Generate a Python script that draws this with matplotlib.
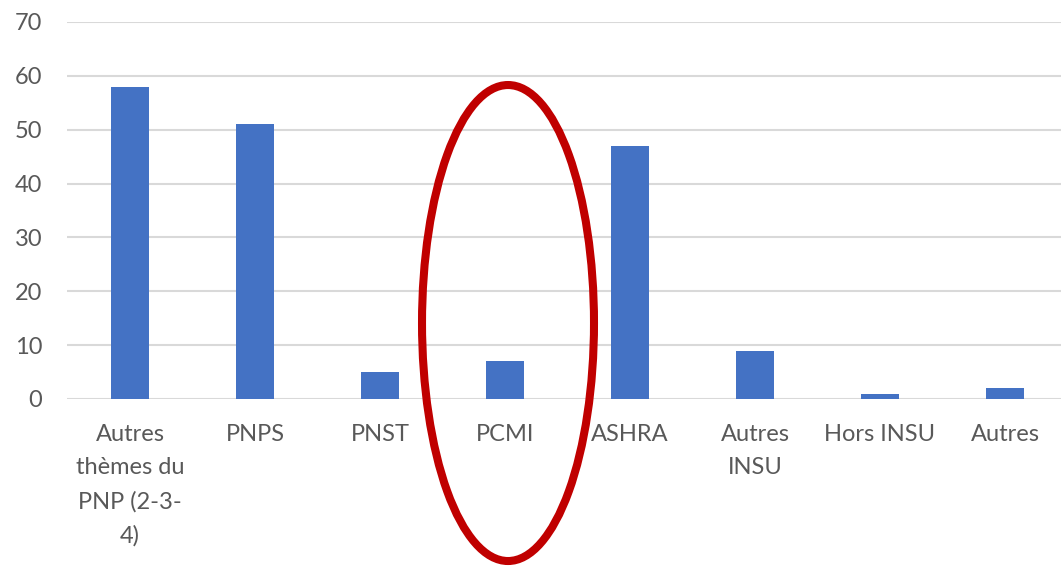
import matplotlib.pyplot as plt
from matplotlib.patches import Ellipse

categories = ["Autres\nthèmes du\nPNP (2-3-\n4)", "PNPS", "PNST", "PCMI", "ASHRA",
              "Autres\nINSU", "Hors INSU", "Autres"]
values = [58, 51, 5, 7, 47, 9, 1, 2]
yticks = [0, 10, 20, 30, 40, 50, 60, 70]

plt.rcParams['font.family'] = ['Lato', 'DejaVu Sans']

fig = plt.figure(figsize=(10.61, 5.67), dpi=100)
ax = fig.add_axes([0.0636, 0.2963, 0.9425, 0.665])

x = range(len(categories))
ax.bar(x, values, width=0.31, color='#4472C4', zorder=3)

ax.set_xlim(-0.5, len(categories) - 0.5)
ax.set_ylim(0, 70)
ax.set_yticks(yticks)
ax.set_xticks(list(x))
ax.set_xticklabels(categories, linespacing=1.72, va='top')
ax.grid(axis='y', color='#D9D9D9', linewidth=1.5, zorder=0)
for s in ax.spines.values():
    s.set_visible(False)
ax.tick_params(axis='both', length=0, labelsize=17, labelcolor='#595959')
ax.tick_params(axis='x', pad=18)
ax.tick_params(axis='y', pad=18)

# red ellipse around PCMI
ell = Ellipse((0.4788, 0.4303), 0.1621, 0.8395, transform=fig.transFigure,
              fill=False, edgecolor='#C00000', linewidth=5.8, clip_on=False, zorder=5)
fig.patches.append(ell)

fig.savefig('out.png', dpi=100)
